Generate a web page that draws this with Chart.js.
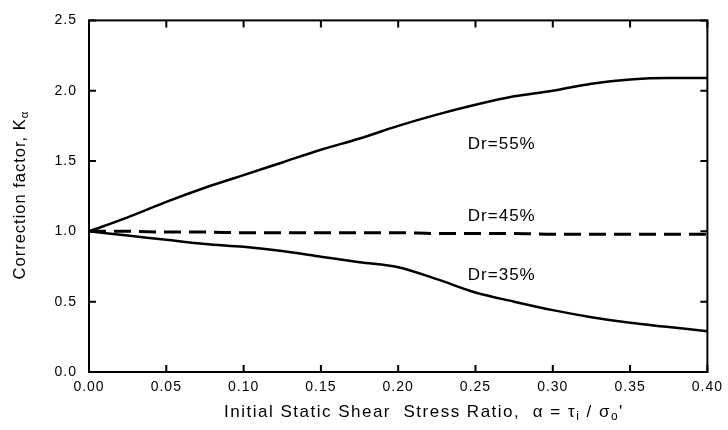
<!DOCTYPE html>
<html>
<head>
<meta charset="utf-8">
<script src="https://cdn.jsdelivr.net/npm/chart.js@4.4.0/dist/chart.umd.min.js"></script>
<style>
  body { margin: 0; background: #fff; }
  canvas { display: block; }
</style>
</head>
<body>
<canvas id="chart" width="728" height="430"></canvas>
<script>
// values
const alpha = [0, 0.025, 0.05, 0.075, 0.1, 0.125, 0.15, 0.175, 0.2, 0.225, 0.25, 0.275, 0.3, 0.325, 0.35, 0.375, 0.4];
const kDr55 = [1.00, 1.10, 1.21, 1.31, 1.40, 1.49, 1.58, 1.66, 1.75, 1.83, 1.90, 1.96, 2.00, 2.05, 2.08, 2.09, 2.09];
const kDr45 = [1.00, 1.00, 0.995, 0.995, 0.99, 0.99, 0.99, 0.99, 0.99, 0.985, 0.985, 0.985, 0.98, 0.98, 0.98, 0.98, 0.98];
const kDr35 = [1.00, 0.97, 0.94, 0.91, 0.89, 0.86, 0.82, 0.78, 0.745, 0.66, 0.565, 0.50, 0.44, 0.39, 0.35, 0.32, 0.29];
const seriesNames = ["Dr=55%", "Dr=45%", "Dr=35%"];
const xTicks = [0, 0.05, 0.1, 0.15, 0.2, 0.25, 0.3, 0.35, 0.4];
const yTicks = [0, 0.5, 1.0, 1.5, 2.0, 2.5];

const FONT = "Liberation Sans, Arial, sans-serif";

const toPoints = (ys) => alpha.map((a, i) => ({ x: a, y: ys[i] }));

// draws a text made of [text, isSubscript] pieces, left aligned
function drawRich(ctx, parts, x, y, size) {
    let cx = x;
    parts.forEach(([t, sub]) => {
        ctx.font = (sub ? size * 0.7 : size) + "px " + FONT;
        ctx.fillText(t, cx, sub ? y + size * 0.3 : y);
        cx += ctx.measureText(t).width;
    });
    return cx - x;
}
function richWidth(ctx, parts, size) {
    let w = 0;
    parts.forEach(([t, sub]) => {
        ctx.font = (sub ? size * 0.7 : size) + "px " + FONT;
        w += ctx.measureText(t).width;
    });
    return w;
}

const framePlugin = {
    id: "frame",
    beforeDraw(chart) {
        // scanned figure has wide lettering, this also hits the tick labels
        chart.ctx.letterSpacing = "1px";
    },
    afterDraw(chart) {
        const { ctx, chartArea: a, scales } = chart;
        const x = scales.x, y = scales.y;
        const tick = 7;
        ctx.save();
        ctx.strokeStyle = "#000";
        ctx.lineWidth = 2;
        ctx.strokeRect(a.left, a.top, a.right - a.left, a.bottom - a.top);

        // inward ticks on all four sides
        ctx.beginPath();
        xTicks.forEach(v => {
            const px = x.getPixelForValue(v);
            ctx.moveTo(px, a.bottom); ctx.lineTo(px, a.bottom - tick);
            ctx.moveTo(px, a.top); ctx.lineTo(px, a.top + tick);
        });
        yTicks.forEach(v => {
            const py = y.getPixelForValue(v);
            ctx.moveTo(a.left, py); ctx.lineTo(a.left + tick, py);
            ctx.moveTo(a.right, py); ctx.lineTo(a.right - tick, py);
        });
        ctx.stroke();

        // curve labels
        ctx.fillStyle = "#000";
        ctx.letterSpacing = "1px";
        ctx.font = "17px " + FONT;
        ctx.textAlign = "center";
        ctx.textBaseline = "middle";
        const labelPos = [[0.267, 1.62], [0.267, 1.11], [0.267, 0.69]];
        seriesNames.forEach((n, i) => {
            ctx.fillText(n, x.getPixelForValue(labelPos[i][0]), y.getPixelForValue(labelPos[i][1]));
        });

        // axis titles with subscripts
        ctx.textAlign = "left";
        ctx.letterSpacing = "1.5px";
        const xTitle = [["Initial Static Shear  Stress Ratio,  \u03b1 = \u03c4", false], ["i", true], [" / \u03c3", false], ["o", true], ["'", false]];
        drawRich(ctx, xTitle, 224, 412, 17);

        ctx.letterSpacing = "1px";
        const yTitle = [["Correction factor, K", false], ["\u03b1", true]];
        ctx.translate(20, 195);
        ctx.rotate(-Math.PI / 2);
        const w = richWidth(ctx, yTitle, 16.5);
        drawRich(ctx, yTitle, -w / 2, 0, 16.5);
        ctx.restore();
    }
};

const lineStyle = { borderColor: "#000", pointRadius: 0, cubicInterpolationMode: "monotone", fill: false };

new Chart(document.getElementById("chart"), {
    type: "line",
    data: {
        datasets: [
            { label: seriesNames[0], data: toPoints(kDr55), borderWidth: 2.5, ...lineStyle },
            { label: seriesNames[1], data: toPoints(kDr45), borderWidth: 3, borderDash: [17, 8], ...lineStyle },
            { label: seriesNames[2], data: toPoints(kDr35), borderWidth: 2.5, ...lineStyle },
        ],
    },
    options: {
        responsive: false,
        animation: false,
        layout: { padding: { left: 0, right: 15, top: 15, bottom: 0 } },
        plugins: { legend: { display: false }, tooltip: { enabled: false } },
        scales: {
            x: {
                type: "linear",
                min: 0,
                max: 0.4,
                afterBuildTicks: (s) => { s.ticks = xTicks.map(v => ({ value: v })); },
                afterFit: (s) => { s.height = 58; },
                grid: { display: false, drawTicks: false },
                border: { display: false },
                ticks: {
                    color: "#000",
                    padding: 7,
                    font: { family: FONT, size: 14 },
                    callback: (v) => v.toFixed(2),
                },
            },
            y: {
                min: 0,
                max: 2.5,
                afterBuildTicks: (s) => { s.ticks = yTicks.map(v => ({ value: v })); },
                afterFit: (s) => { s.width = 89; },
                grid: { display: false, drawTicks: false },
                border: { display: false },
                ticks: {
                    color: "#000",
                    padding: 12,
                    font: { family: FONT, size: 14 },
                    callback: (v) => v.toFixed(1),
                },
            },
        },
    },
    plugins: [framePlugin],
});
</script>
</body>
</html>
